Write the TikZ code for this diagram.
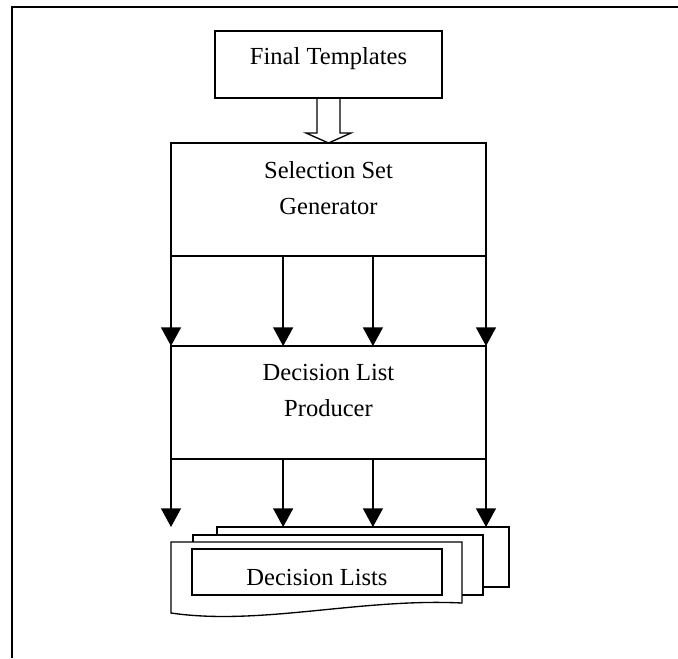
\documentclass[tikz,border=0pt]{standalone}
\usepackage{fontspec}
\setmainfont{Liberation Serif}
\usetikzlibrary{arrows.meta,calc}

\begin{document}
\begin{tikzpicture}[x=0.75pt,y=-0.75pt,
    box/.style={draw,line width=1pt,fill=white,inner sep=0pt,outer sep=0pt},
    lbl/.style={font=\fontsize{18.4}{27}\selectfont,align=center,inner sep=0pt},
    flow/.style={-{Triangle[length=14pt,width=15pt]},line width=1pt}]
    \useasboundingbox (0,0) rectangle (678,658);
    % page frame
    \draw[line width=1.5pt] (12,658) -- (12,7) -- (678,7);
    % main boxes
    \node[box,lbl,minimum width=170.25pt,minimum height=50.25pt,text height=8pt,text depth=8pt] (ft) at (328.5,64.5) {Final Templates};
    \node[box,minimum width=236.25pt,minimum height=84.75pt] (ssg) at (328.5,199.5) {};
    \node[lbl] (ssgtxt) at ($(ssg.center)+(0,-11.7)$) {Selection Set\\Generator};
    \node[box,minimum width=236.25pt,minimum height=84.75pt] (dlp) at (328.5,402.5) {};
    \node[lbl] (dlptxt) at ($(dlp.center)+(0,-11.7)$) {Decision List\\Producer};
    % hollow arrow
    \draw[line width=1pt] ($(ft.south)+(-11.5,0)$) |- ($(ssg.north)+(-22.5,-10)$) -- (ssg.north)
        -- ($(ssg.north)+(22.5,-10)$) -| ($(ft.south)+(11.5,0)$);
    % fan-out to the producer
    \foreach \f in {0,0.356,0.641,1}
        \draw[flow] ($(ssg.south west)!\f!(ssg.south east)$) -- ($(dlp.north west)!\f!(dlp.north east)$);
    % stack of decision lists
    \node[box,minimum width=219pt,minimum height=45pt] (back) at (363,557) {};
    \node[box,minimum width=217.5pt,minimum height=45pt] (mid) at (338,565) {};
    \draw[line width=1pt,fill=white] (171,542) -- (462,542) -- (462,603)
        .. controls (360,598) and (260,626) .. (171,613) -- cycle;
    \node[box,lbl,minimum width=187.5pt,minimum height=34.5pt,text height=19.5pt,text depth=0pt] (lists) at (317,572) {Decision Lists};
    % fan-out to the lists
    \foreach \f in {0,0.356,0.641,1}
        \draw[flow] ($(dlp.south west)!\f!(dlp.south east)$) coordinate (s) -- (s |- back.north);
\end{tikzpicture}
\end{document}
